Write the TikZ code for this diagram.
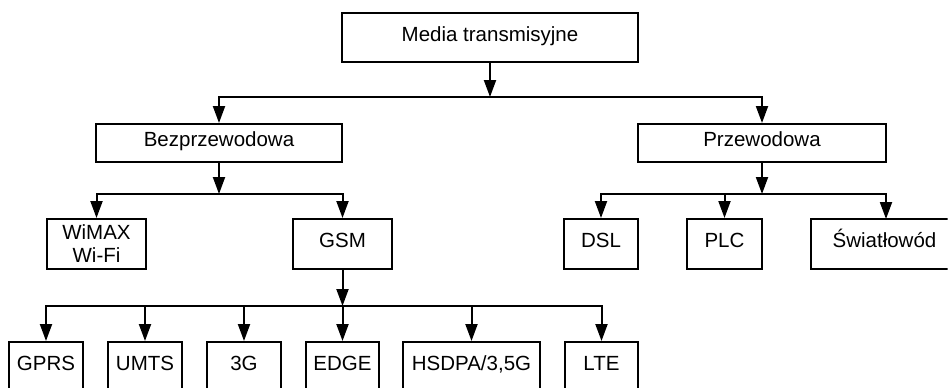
\documentclass[tikz,border=0pt]{standalone}
\usepackage{fontspec}
\setmainfont{Liberation Sans}
\usetikzlibrary{arrows.meta}
\begin{document}
\begin{tikzpicture}[x=1pt,y=-1pt,
  line width=2pt,
  font=\fontsize{20.5}{24}\selectfont,
  boxbase/.style={draw, rectangle, inner sep=0pt, minimum height=#1},
  box/.style={boxbase=50pt, text height=0.716em, text depth=0pt},
  boxthin/.style={boxbase=38pt, text height=0.716em, text depth=0pt},
  boxtwo/.style={boxbase=50pt, align=center},
  arr/.style={-{Triangle[length=17pt,width=12pt]}}]
\useasboundingbox (0,0) rectangle (948,388);
\begin{scope}
\clip (-10,-10) rectangle (947.5,387.5);
% nodes
\node[box, minimum height=49pt, minimum width=296pt] (top) at (490,37.5) {Media transmisyjne};
\node[boxthin, minimum width=246pt] (bez) at (219,143) {Bezprzewodowa};
\node[boxthin, minimum width=248pt] (prz) at (762,143) {Przewodowa};
\node[boxtwo, minimum width=99pt] (wimax) at (96.5,244) {WiMAX\\[-1pt]Wi-Fi};
\node[box, minimum width=99pt] (gsm) at (342.5,244) {GSM};
\node[box, minimum width=74pt] (dsl) at (601,244) {DSL};
\node[box, minimum width=75pt] (plc) at (724.5,244) {PLC};
\node[box, minimum width=260pt] (swiat) at (941,244) {Światłowód\hspace*{113pt}};
\node[box, minimum width=74pt] (gprs) at (46,367) {GPRS};
\node[box, minimum width=74pt] (umts) at (145,367) {UMTS};
\node[box, minimum width=74pt] (g3) at (244,367) {3G};
\node[box, minimum width=73pt] (edge) at (342.5,367) {EDGE};
\node[box, minimum width=137pt] (hsdpa) at (471.5,367) {HSDPA/3,5G};
\node[box, minimum width=73pt] (lte) at (601.5,367) {LTE};
% bus points
\coordinate (b1) at (490,97);
\coordinate (b2) at (219,194);
\coordinate (b3) at (762,194);
\coordinate (b4) at (342.5,306);
\coordinate (sw) at (886,219);
% connectors
\draw[arr] (top.south) -- (b1);
\draw[arr] (b1) -| (bez.north);
\draw[arr] (b1) -| (prz.north);
\draw[arr] (bez.south) -- (b2);
\draw[arr] (b2) -| (wimax.north);
\draw[arr] (b2) -| (gsm.north);
\draw[arr] (prz.south) -- (b3);
\draw[arr] (b3) -| (dsl.north);
\draw[arr] (b3) -| (plc.north);
\draw[arr] (b3) -| (sw);
\draw[arr] (gsm.south) -- (b4);
\draw[arr] (b4) -| (gprs.north);
\draw[arr] (b4) -| (umts.north);
\draw[arr] (b4) -| (g3.north);
\draw[arr] (b4) -- (edge.north);
\draw[arr] (b4) -| (hsdpa.north);
\draw[arr] (b4) -| (lte.north);
\end{scope}
\end{tikzpicture}
\end{document}
